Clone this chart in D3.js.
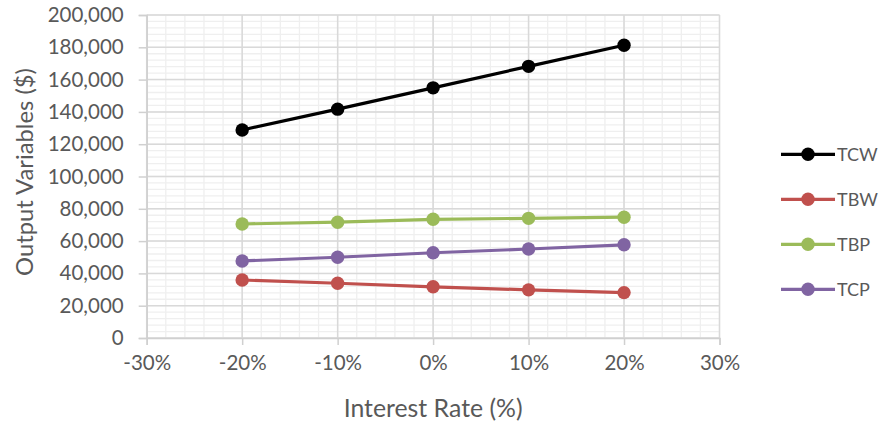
<!DOCTYPE html>
<html>
<head>
<meta charset="utf-8">
<script src="https://cdn.jsdelivr.net/npm/d3@7"></script>
<style>
  html, body { margin: 0; padding: 0; background: #ffffff; }
  svg { display: block; font-family: Lato, "Open Sans", sans-serif; }
</style>
</head>
<body>
<svg id="chart" width="889" height="428"></svg>
<script>
// Interest rate scenarios (x values)
const rates = [-0.2, -0.1, 0, 0.1, 0.2];

// Output variables ($) per scenario
const tcw = [128800, 141700, 154900, 168200, 181300];
const tbw = [35900, 33900, 31700, 29800, 28100];
const tbp = [70600, 71700, 73500, 74100, 74800];
const tcp = [47700, 50000, 52800, 55100, 57700];

const seriesNames = ["TCW", "TBW", "TBP", "TCP"];
const seriesValues = [tcw, tbw, tbp, tcp];
const seriesColors = ["#000000", "#C0504D", "#9BBB59", "#8064A2"];

// Axis ticks
const xTicks = [-0.3, -0.2, -0.1, 0, 0.1, 0.2, 0.3];
const yTicks = [0, 20000, 40000, 60000, 80000, 100000, 120000, 140000, 160000, 180000, 200000];

const svg = d3.select("#chart");
const plotLeft = 146.7, plotRight = 719.5, plotTop = 15, plotBottom = 338;

const x = d3.scaleLinear().domain([-0.3, 0.3]).range([plotLeft, plotRight]);
const y = d3.scaleLinear().domain([0, 200000]).range([plotBottom, plotTop]);

// Scale a text element's font size so its run spans the given width
function fitText(sel, width) {
  const size = parseFloat(sel.style("font-size"));
  const len = sel.node().getComputedTextLength();
  if (len > 0) sel.style("font-size", (size * width / len).toFixed(2) + "px");
}

// Minor grid
const minorX = d3.range(-30, 31, 2).map(d => d / 100);
const minorY = d3.range(0, 200001, 4000);
const grid = svg.append("g");
grid.selectAll(".mx").data(minorX).join("line")
  .attr("x1", d => x(d)).attr("x2", d => x(d))
  .attr("y1", plotTop).attr("y2", plotBottom)
  .attr("stroke", "#efefef").attr("stroke-width", 1.3);
grid.selectAll(".my").data(minorY).join("line")
  .attr("x1", plotLeft).attr("x2", plotRight)
  .attr("y1", d => y(d)).attr("y2", d => y(d))
  .attr("stroke", "#efefef").attr("stroke-width", 1.3);
// Major grid
grid.selectAll(".Mx").data(xTicks).join("line")
  .attr("x1", d => x(d)).attr("x2", d => x(d))
  .attr("y1", plotTop).attr("y2", plotBottom)
  .attr("stroke", "#d9d9d9").attr("stroke-width", 1.5);
grid.selectAll(".My").data(yTicks).join("line")
  .attr("x1", plotLeft).attr("x2", plotRight)
  .attr("y1", d => y(d)).attr("y2", d => y(d))
  .attr("stroke", "#d9d9d9").attr("stroke-width", 1.5);

// Axes
const fmtY = d3.format(",");
const fmtX = d3.format(".0%");
const yAxis = svg.append("g").attr("transform", `translate(${plotLeft},0)`)
  .call(d3.axisLeft(y).tickValues(yTicks).tickFormat(fmtY).tickSize(8).tickPadding(15));
const xAxis = svg.append("g").attr("transform", `translate(0,${plotBottom})`)
  .call(d3.axisBottom(x).tickValues(xTicks).tickFormat(fmtX).tickSize(7).tickPadding(10));
[yAxis, xAxis].forEach(a => {
  a.select(".domain").attr("stroke", "#d0d0d0").attr("stroke-width", 1.5);
  a.selectAll(".tick line").attr("stroke", "#d0d0d0").attr("stroke-width", 1.5);
  a.selectAll("text").attr("fill", "#595959").style("font-size", "20.5px")
    .style("font-family", "Lato, 'Open Sans', sans-serif");
});
xAxis.selectAll("text").text(d => fmtX(d).replace("−", "-"));

// Axis titles
const xTitle = svg.append("text")
  .attr("x", (plotLeft + plotRight) / 2).attr("y", 417)
  .attr("text-anchor", "middle").attr("fill", "#595959")
  .style("font-size", "24px").text("Interest Rate (%)");
fitText(xTitle, 179);
const yTitle = svg.append("text")
  .attr("transform", `translate(33,172) rotate(-90)`)
  .attr("text-anchor", "middle").attr("fill", "#595959")
  .style("font-size", "24px").text("Output Variables ($)");
fitText(yTitle, 208);

// Series lines and markers
const line = d3.line().x((d, i) => x(rates[i])).y(d => y(d));
seriesValues.forEach((vals, k) => {
  const g = svg.append("g");
  g.append("path").datum(vals).attr("d", line)
    .attr("fill", "none").attr("stroke", seriesColors[k])
    .attr("stroke-width", 3.2).attr("stroke-linejoin", "round");
  g.selectAll("circle").data(vals).join("circle")
    .attr("cx", (d, i) => x(rates[i])).attr("cy", d => y(d))
    .attr("r", 6.7).attr("fill", seriesColors[k]);
});

// Legend
const legend = svg.append("g");
seriesNames.forEach((name, k) => {
  const ly = 154.3 + k * 45;
  legend.append("line").attr("x1", 781).attr("x2", 835)
    .attr("y1", ly).attr("y2", ly)
    .attr("stroke", seriesColors[k]).attr("stroke-width", 3.2);
  legend.append("circle").attr("cx", 808).attr("cy", ly).attr("r", 6.7)
    .attr("fill", seriesColors[k]);
  legend.append("text").attr("x", 837).attr("y", ly)
    .attr("dy", "0.36em").attr("fill", "#595959")
    .style("font-size", "18px").text(name);
});
</script>
</body>
</html>
